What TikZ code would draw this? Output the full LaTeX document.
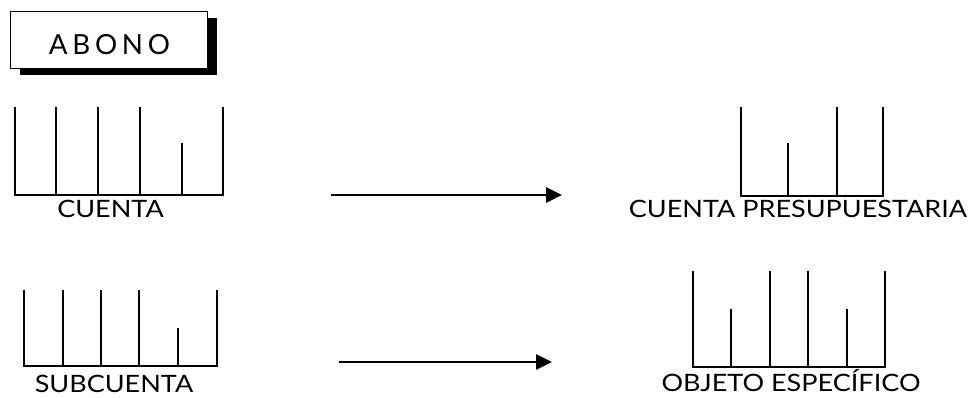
\documentclass[tikz,border=0pt]{standalone}
\usepackage{fontspec}
\setmainfont{Lato}
\newfontfamily\labelfont{Lato}[FakeStretch=1.13]
\usetikzlibrary{arrows.meta,shadows}

\tikzset{
  bar/.style={line width=1.4pt},
  label/.style={inner sep=0pt, anchor=base, font=\labelfont\fontsize{17}{20}\selectfont},
  flow/.style={line width=1.4pt, -{Triangle[length=0.4cm, width=0.38cm]}},
}

\begin{document}
\begin{tikzpicture}[x=0.025cm, y=-0.025cm]
	\useasboundingbox (0, 0) rectangle (978, 398);
	% Title box with shadow:
	\node[shape=rectangle, draw, fill=white, line width=0.6pt, minimum width=4.925cm, minimum height=1.425cm, drop shadow={shadow xshift=0.25cm, shadow yshift=-0.175cm, fill=black, opacity=1}] (abono) at (108.5, 39.5){};
	\node[inner sep=0pt, anchor=base, font=\fontsize{19.7}{22}\selectfont\addfontfeatures{LetterSpace=17}] (abono text) at (109.5, 55){ABONO};
	% Bars for CUENTA:
	\foreach \x/\t in {15/107, 56/107, 98/107, 140/107, 182/143, 223/107}
		\draw[bar] (\x, \t) -- (\x, 195);
	\draw[bar] (14.3, 195) -- (223.7, 195);
	\node[label] (cuenta) at (110.5, 218){CUENTA};
	% Bars for SUBCUENTA:
	\foreach \x/\t in {24/290, 63/290, 101/290, 139/290, 178/328, 217/290}
		\draw[bar] (\x, \t) -- (\x, 366);
	\draw[bar] (23.3, 366) -- (217.7, 366);
	\node[label] (subcuenta) at (114, 393){SUBCUENTA};
	% Bars for CUENTA PRESUPUESTARIA:
	\foreach \x/\t in {741/107, 788/143, 837/107, 883/107}
		\draw[bar] (\x, \t) -- (\x, 196);
	\draw[bar] (740.3, 196) -- (883.7, 196);
	\node[label] (presupuestaria) at (798, 218){CUENTA PRESUPUESTARIA};
	% Bars for OBJETO ESPECIFICO:
	\foreach \x/\t in {693/271, 731/309, 770/271, 808/271, 847/309, 885/271}
		\draw[bar] (\x, \t) -- (\x, 367);
	\draw[bar] (692.3, 367) -- (885.7, 367);
	\node[label] (objeto) at (791, 392){OBJETO ESPECÍFICO};
	% Arrows:
	\coordinate (top from) at (331, 195);
	\coordinate (top to) at (562, 195);
	\coordinate (low from) at (339, 362);
	\coordinate (low to) at (552, 362);
	\draw[flow] (top from) -- (top to);
	\draw[flow] (low from) -- (low to);
\end{tikzpicture}
\end{document}
